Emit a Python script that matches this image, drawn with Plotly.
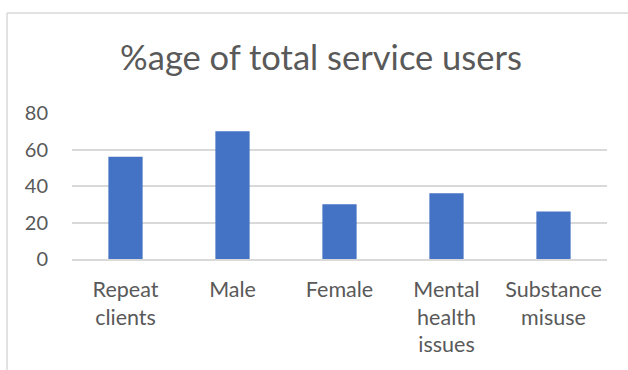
import plotly.graph_objects as go

categories = ["Repeat<br>clients", "Male", "Female", "Mental<br>health<br>issues", "Substance<br>misuse"]
values = [56, 70, 30, 36, 26]
y_ticks = [0, 20, 40, 60, 80]

W, H = 628, 370
ml, mr, mt, mb = 72, 21, 113, 111

fig = go.Figure(go.Bar(
    x=categories, y=values,
    marker=dict(color="#4472C4", line=dict(color="#ffffff", width=0)),
    width=0.32,
))

fig.update_layout(
    width=W, height=H,
    margin=dict(l=ml, r=mr, t=mt, b=mb, pad=0),
    paper_bgcolor="white", plot_bgcolor="white",
    font=dict(family="Lato", color="#595959", size=20),
    title=dict(text="%age of total service users", x=321 / W, xref="container", xanchor="center",
               y=1 - 58 / H, yref="container", yanchor="middle",
               font=dict(family="Lato", size=34.5, color="#595959")),
    showlegend=False,
)
fig.update_yaxes(range=[0, 80], tickvals=y_ticks, showgrid=True, gridcolor="#d9d9d9", gridwidth=1.5,
                 zeroline=False, showline=False, ticks="", ticklabelstandoff=23,
                 tickfont=dict(size=20, color="#595959"))
fig.update_xaxes(showline=True, linecolor="#d9d9d9", linewidth=1.5, ticks="", ticklabelstandoff=10,
                 tickfont=dict(size=21.5, color="#595959"))

# chart-area border (partially cropped in reference)
pw = W - ml - mr
x_left = (7 - ml) / pw
y_top = (H - mb - 13) / (H - mt - mb)
fig.add_shape(type="line", xref="paper", yref="paper", x0=x_left, x1=x_left, y0=-2, y1=y_top,
              line=dict(color="#d9d9d9", width=1.5))
fig.add_shape(type="line", xref="paper", yref="paper", x0=x_left, x1=1.2, y0=y_top, y1=y_top,
              line=dict(color="#d9d9d9", width=1.5))

fig.write_html("out.html")
